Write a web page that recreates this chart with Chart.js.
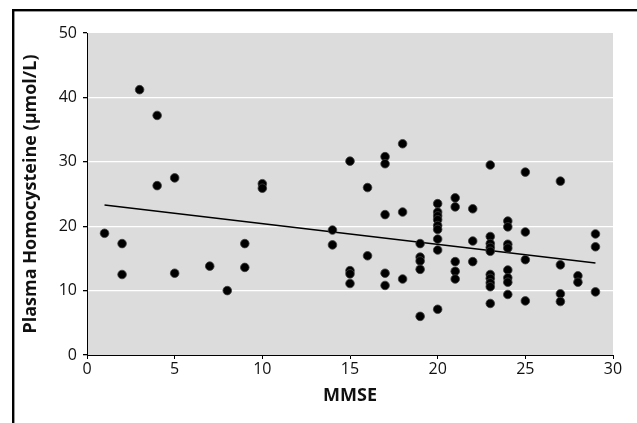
<!DOCTYPE html>
<html>
<head>
<meta charset="utf-8">
<script src="https://cdn.jsdelivr.net/npm/chart.js@4.4.1/dist/chart.umd.min.js"></script>
<style>
  html, body { margin: 0; padding: 0; background: #fff; }
  #wrap { position: relative; width: 637px; height: 423px; }
</style>
</head>
<body>
<div id="wrap"><canvas id="chartHcy" width="637" height="423"></canvas></div>
<script>
// --- Datos ---
const mmseScores = [
  1, 2, 2, 3, 4, 4, 5, 5, 7, 8, 9, 9, 10, 10,
  14, 14, 15, 15, 15, 15, 16, 16, 17, 17, 17, 17, 17,
  18, 18, 18, 19, 19, 19, 19, 19,
  20, 20, 20, 20, 20, 20, 20, 20, 20,
  21, 21, 21, 21, 21, 22, 22, 22,
  23, 23, 23, 23, 23, 23, 23, 23, 23, 23,
  24, 24, 24, 24, 24, 24, 24, 24,
  25, 25, 25, 25, 27, 27, 27, 27, 28, 28, 29, 29, 29
];
const homocysteine = [
  18.9, 17.3, 12.5, 41.2, 37.2, 26.3, 27.5, 12.7, 13.8, 10.0, 17.3, 13.6, 26.6, 25.9,
  19.4, 17.1, 30.1, 13.1, 12.6, 11.1, 26.0, 15.4, 30.8, 29.7, 21.8, 12.7, 10.8,
  32.8, 22.2, 11.8, 17.3, 15.2, 14.6, 13.3, 6.0,
  23.5, 22.2, 21.6, 21.0, 20.1, 19.5, 18.0, 16.3, 7.1,
  24.4, 23.0, 14.5, 13.0, 11.8, 22.7, 17.7, 14.5,
  29.5, 18.4, 17.3, 16.7, 16.1, 12.5, 11.9, 11.2, 10.6, 8.0,
  20.8, 19.9, 17.2, 16.6, 13.2, 12.0, 11.3, 9.4,
  28.4, 19.1, 14.8, 8.4, 27.0, 14.0, 9.5, 8.3, 12.3, 11.3, 18.8, 16.8, 9.8
];

// línea de regresión (extremos)
const trendX = [1, 29];
const trendY = [23.3, 14.3];

const xTicks = [0, 5, 10, 15, 20, 25, 30];
const yTicks = [0, 10, 20, 30, 40, 50];

const el = (id) => document.getElementById(id);
const FONT = "'Open Sans', 'DejaVu Sans', sans-serif";

// fondo gris del área del gráfico + marco negro exterior
const backdrop = {
  id: "backdrop",
  beforeDraw(chart) {
    const { ctx, chartArea: a } = chart;
    ctx.save();
    ctx.fillStyle = "#000";
    ctx.fillRect(12, 9, 2.4, chart.height);
    ctx.fillRect(12, 9, chart.width, 2.4);
    ctx.fillStyle = "#dbdcdb";
    ctx.fillRect(a.left, a.top, a.right - a.left, a.bottom - a.top);
    ctx.restore();
  },
};

new Chart(el("chartHcy").getContext("2d"), {
  data: {
    datasets: [
      {
        type: "scatter",
        data: mmseScores.map((x, i) => ({ x, y: homocysteine[i] })),
        backgroundColor: "#000",
        borderColor: "#3c3c3c",
        borderWidth: 0.8,
        pointRadius: 4.3,
        order: 1,
      },
      {
        type: "line",
        data: trendX.map((x, i) => ({ x, y: trendY[i] })),
        borderColor: "#000",
        borderWidth: 1.5,
        pointRadius: 0,
        fill: false,
        order: 2,
      },
    ],
  },
  options: {
    responsive: false,
    animation: false,
    devicePixelRatio: 1,
    layout: { padding: { left: 0, right: 24, top: 33, bottom: 0 } },
    plugins: { legend: { display: false }, tooltip: { enabled: false } },
    scales: {
      x: {
        type: "linear",
        min: 0,
        max: 30,
        afterBuildTicks: (s) => { s.ticks = xTicks.map((v) => ({ value: v })); },
        afterFit: (s) => { s.height = 68; },
        border: { color: "#000", width: 1 },
        grid: { drawOnChartArea: false, tickLength: 4, tickColor: "#000" },
        ticks: { color: "#111", padding: 1, font: { family: FONT, size: 16 } },
        title: {
          display: true,
          text: "MMSE",
          color: "#111",
          padding: { top: 0, bottom: 16 },
          font: { family: FONT, size: 18, weight: "bold" },
        },
      },
      y: {
        type: "linear",
        min: 0,
        max: 50,
        afterBuildTicks: (s) => { s.ticks = yTicks.map((v) => ({ value: v })); },
        afterFit: (s) => { s.width = 87; },
        border: { color: "#000", width: 1 },
        grid: {
          color: (c) => (c.tick && (c.tick.value === 0 || c.tick.value === 50) ? "rgba(0,0,0,0)" : "#fff"),
          lineWidth: 1.3,
          tickLength: 4,
          tickColor: "#000",
        },
        ticks: { color: "#111", padding: 6, font: { family: FONT, size: 16 } },
        title: {
          display: true,
          text: "Plasma Homocysteine (µmol/L)",
          color: "#111",
          padding: { top: 20, bottom: 0 },
          font: { family: FONT, size: 18, weight: "bold" },
        },
      },
    },
  },
  plugins: [backdrop],
});
</script>
</body>
</html>
